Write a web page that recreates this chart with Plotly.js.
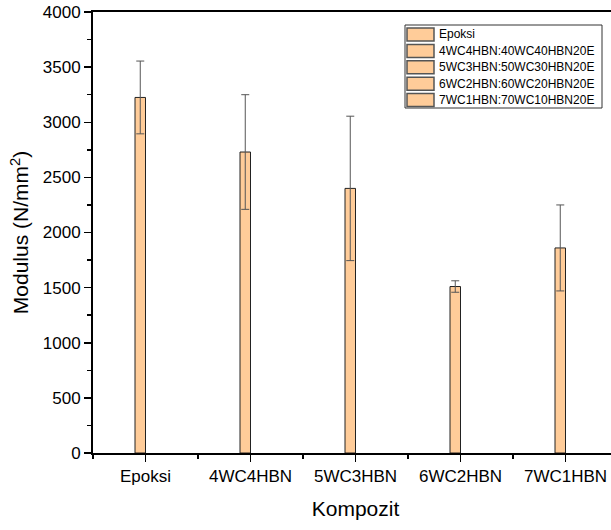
<!DOCTYPE html>
<html>
<head>
<meta charset="utf-8">
<script src="https://cdn.plot.ly/plotly-3.0.1.min.js"></script>
<style>
html, body { margin: 0; padding: 0; overflow: hidden; background: #fff; }
#chart { width: 630px; height: 530px; }
</style>
</head>
<body>
<div id="chart"></div>
<script>
// Data
var categories = ["Epoksi", "4WC4HBN", "5WC3HBN", "6WC2HBN", "7WC1HBN"];
var legendNames = ["Epoksi", "4WC4HBN:40WC40HBN20E", "5WC3HBN:50WC30HBN20E", "6WC2HBN:60WC20HBN20E", "7WC1HBN:70WC10HBN20E"];
var modulus = [3225, 2730, 2400, 1510, 1860];
var modulusErr = [330, 520, 655, 52, 390];
var yTickVals = [0, 500, 1000, 1500, 2000, 2500, 3000, 3500, 4000];

var font = "Liberation Sans, Arial, sans-serif";
var barFill = "#FFCC99";
var positions = categories.map(function (c, i) { return i; });

// plot area in pixels (for placing the legend box)
var M = { l: 93, r: 12, t: 12, b: 77 }, W = 630, H = 530;
var PW = W - M.l - M.r, PH = H - M.t - M.b;
function px(x) { return (x - M.l) / PW; }
function py(y) { return (H - M.b - y) / PH; }

var traces = categories.map(function (c, i) {
  return {
    type: "bar",
    x: [positions[i]],
    y: [modulus[i]],
    name: legendNames[i],
    showlegend: false,
    width: 0.1,
    offset: -0.1,
    marker: { color: barFill, line: { color: "#222222", width: 1 } },
    error_y: { type: "data", array: [modulusErr[i]], visible: true, color: "#555555", thickness: 1, width: 4 },
    hoverinfo: "x+y"
  };
});

// legend (box, swatches, labels)
var shapes = [{
  type: "rect", xref: "paper", yref: "paper", layer: "above",
  x0: px(405), x1: px(602), y0: py(25), y1: py(108),
  fillcolor: "#ffffff", line: { color: "#333333", width: 1 }
}];
var annotations = [];
legendNames.forEach(function (name, i) {
  var c = 34.5 + i * 16.4;
  shapes.push({
    type: "rect", xref: "paper", yref: "paper", layer: "above",
    x0: px(407), x1: px(434), y0: py(c - 6.5), y1: py(c + 6.5),
    fillcolor: barFill, line: { color: "#555555", width: 1.5 }
  });
  annotations.push({
    xref: "paper", yref: "paper", x: px(437), y: py(c),
    xanchor: "left", yanchor: "middle", showarrow: false,
    text: name, font: { family: font, size: 12, color: "#000" }
  });
});

var layout = {
  width: W,
  height: H,
  margin: M,
  paper_bgcolor: "#ffffff",
  plot_bgcolor: "#ffffff",
  barmode: "overlay",
  showlegend: false,
  font: { family: font, color: "#000000" },
  shapes: shapes,
  annotations: annotations,
  xaxis: {
    range: [-0.5, 4.5],
    tickmode: "array",
    tickvals: positions,
    ticktext: categories,
    ticks: "outside",
    ticklen: 7,
    tickwidth: 1.5,
    tickcolor: "#000",
    tickfont: { family: font, size: 17, color: "#000" },
    minor: { tickmode: "linear", tick0: -0.5, dtick: 1, ticks: "outside", ticklen: 4, tickwidth: 1.5, tickcolor: "#000" },
    showline: true,
    linecolor: "#000",
    linewidth: 2,
    mirror: true,
    showgrid: false,
    zeroline: false,
    title: { text: "Kompozit", font: { family: font, size: 21, color: "#000" }, standoff: 16 }
  },
  yaxis: {
    range: [0, 4000],
    tickmode: "array",
    tickvals: yTickVals,
    ticks: "outside",
    ticklen: 7,
    tickwidth: 1.5,
    tickcolor: "#000",
    tickfont: { family: font, size: 17, color: "#000" },
    minor: { tickmode: "linear", tick0: 250, dtick: 500, ticks: "outside", ticklen: 4, tickwidth: 1.5, tickcolor: "#000" },
    showline: true,
    linecolor: "#000",
    linewidth: 2,
    mirror: true,
    showgrid: false,
    zeroline: false,
    title: { text: "Modulus (N/mm<sup>2</sup>)", font: { family: font, size: 21, color: "#000" }, standoff: 8 }
  }
};

Plotly.newPlot("chart", traces, layout, { displayModeBar: false, staticPlot: true });
</script>
</body>
</html>
